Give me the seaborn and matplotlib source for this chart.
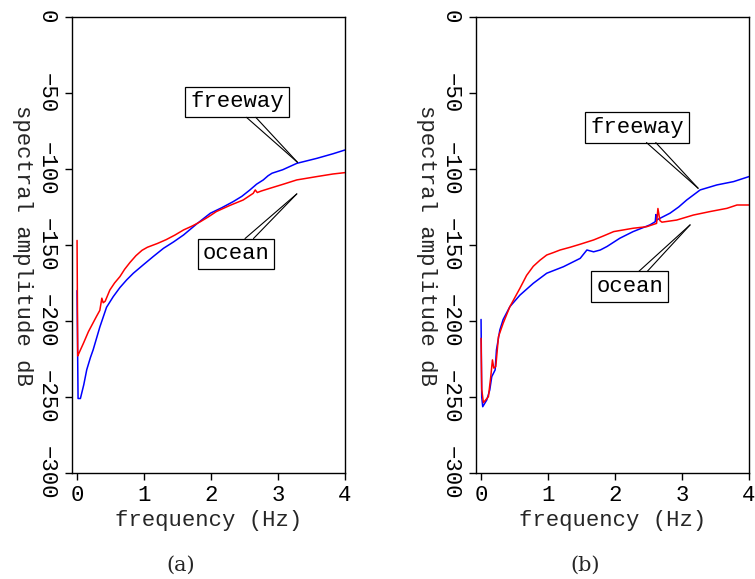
import matplotlib
matplotlib.use("Agg")
import matplotlib.pyplot as plt
import pandas as pd
import seaborn as sns

# ---- spectra, panel (a) ----
a_freeway_f = [0.0, 0.015, 0.05, 0.1, 0.145, 0.2, 0.24, 0.3, 0.34, 0.44, 0.54, 0.64, 0.74,
               0.84, 0.99, 1.14, 1.29, 1.44, 1.59, 1.79, 1.99, 2.16, 2.33, 2.46, 2.58, 2.68,
               2.78, 2.85, 2.91, 3.07, 3.28, 3.58, 3.82, 4.0]
a_freeway_db = [-180, -251, -251, -242, -232, -224, -219, -210, -204, -191, -184, -178, -173,
                -168.6, -163, -157.5, -152.2, -148, -143.4, -136, -129.1, -125.5, -121.5, -118, -113.8, -110,
                -107.2, -104.5, -102.8, -100.5, -96.3, -93, -90, -87.5]

a_ocean_f = [0.0, 0.01, 0.03, 0.095, 0.17, 0.23, 0.29, 0.34, 0.37, 0.39, 0.42, 0.49, 0.56,
             0.64, 0.71, 0.79, 0.88, 0.97, 1.05, 1.2, 1.33, 1.46, 1.59, 1.72, 1.84, 1.96,
             2.08, 2.28, 2.48, 2.63, 2.66, 2.69, 2.75, 2.88, 3.08, 3.28, 3.58, 3.82, 4.0]
a_ocean_db = [-147, -223, -221, -214.7, -207, -202, -197, -193, -185, -188, -187, -179.6, -175,
              -170.8, -166, -161.5, -157, -153.5, -151.5, -149, -146.5, -143.5, -140.1, -137.5, -134.7, -131.5,
              -128, -124, -120.4, -116, -113.8, -115.5, -114.5, -112.7, -110, -107.2, -105, -103.3, -102.4]

# ---- spectra, panel (b) ----
b_freeway_f = [0.0, 0.01, 0.025, 0.085, 0.13, 0.16, 0.21, 0.23, 0.28, 0.33, 0.43, 0.58, 0.78,
               0.98, 1.23, 1.48, 1.58, 1.68, 1.78, 1.88, 2.07, 2.27, 2.52, 2.60, 2.61, 2.62,
               2.82, 2.95, 3.07, 3.27, 3.52, 3.77, 4.0]
b_freeway_db = [-199, -250, -256.4, -252, -245.4, -236.6, -232.2, -219, -206, -199, -190.6, -183, -175.2,
                -168.6, -164.3, -158.8, -153.3, -154.5, -153.3, -151, -145.6, -141.2, -136.8, -134.7, -130, -133.6,
                -129.1, -125, -120.4, -113.8, -110.5, -108.3, -105]

b_ocean_f = [0.0, 0.01, 0.035, 0.11, 0.145, 0.17, 0.19, 0.22, 0.26, 0.33, 0.43, 0.58, 0.68,
             0.78, 0.88, 0.98, 1.08, 1.18, 1.33, 1.48, 1.68, 1.83, 1.98, 2.27, 2.47, 2.62,
             2.64, 2.67, 2.70, 2.92, 3.17, 3.42, 3.67, 3.82, 4.0]
b_ocean_db = [-211.4, -245, -253.7, -249.8, -236.6, -225.6, -231, -230, -210.3, -201.5, -190.6, -178.5, -170,
              -164, -160, -156.6, -155, -153.3, -151.5, -149.5, -146.7, -144, -141.2, -139, -138, -135.8,
              -126, -134, -135, -133.6, -130.3, -128, -125.9, -123.7, -123.7]

series_names = ["freeway", "ocean"]
series_colors = {"freeway": "#0000ff", "ocean": "#ff0000"}

x_ticks = [0, 1, 2, 3, 4]
y_ticks = [0, -50, -100, -150, -200, -250, -300]
x_label = "frequency (Hz)"
y_label = "spectral amplitude dB"
captions = ["(a)", "(b)"]

# label box centres, leader-line targets and anchor fractions on the box edge
a_labels = {
    "freeway": dict(center=(2.39, -55.9), target=(3.29, -95.6), rel=(0.59, 0.68), edge=0.0),
    "ocean": dict(center=(2.37, -155.9), target=(3.28, -116.4), rel=(0.62, 0.73), edge=1.0),
}
b_labels = {
    "freeway": dict(center=(2.33, -72.5), target=(3.24, -112.7), rel=(0.59, 0.68), edge=0.0),
    "ocean": dict(center=(2.22, -177.4), target=(3.12, -136.8), rel=(0.62, 0.73), edge=1.0),
}

sns.set_style("ticks")
plt.rcParams["font.family"] = ["Liberation Mono", "DejaVu Sans Mono"]
plt.rcParams["axes.linewidth"] = 1.0
plt.rcParams["axes.edgecolor"] = "black"
plt.rcParams["xtick.color"] = "black"
plt.rcParams["ytick.color"] = "black"

fig = plt.figure(figsize=(7.55, 5.79), dpi=100)
ax_a = fig.add_axes([0.0954, 0.1831, 0.3616, 0.7876])
ax_b = fig.add_axes([0.6305, 0.1831, 0.3616, 0.7876])


def spectra_frame(freeway_f, freeway_db, ocean_f, ocean_db):
    parts = [
        pd.DataFrame({"freq": freeway_f, "db": freeway_db, "site": "freeway"}),
        pd.DataFrame({"freq": ocean_f, "db": ocean_db, "site": "ocean"}),
    ]
    return pd.concat(parts, ignore_index=True)


def label_box(ax, text, center, target, rel, edge):
    t = ax.text(center[0], center[1], text, ha="center", va="center", fontsize=16,
                color="black", zorder=5,
                bbox=dict(boxstyle="square,pad=0.22", fc="white", ec="black", lw=0.9))
    patch = t.get_bbox_patch()
    for rx in rel:
        ax.annotate("", xy=target, xycoords="data", xytext=(rx, edge), textcoords=patch,
                    arrowprops=dict(arrowstyle="-", color="black", lw=0.8,
                                    shrinkA=0, shrinkB=0), zorder=6)


def draw_panel(ax, df, labels):
    sns.lineplot(data=df, x="freq", y="db", hue="site", hue_order=series_names,
                 palette=series_colors, estimator=None, sort=False, legend=False,
                 linewidth=1.1, ax=ax)
    ax.set_xlim(-0.075, 4.0)
    ax.set_ylim(-300, 0)
    ax.set_xticks(x_ticks)
    ax.set_yticks(y_ticks)
    ax.set_xticklabels([str(v) for v in x_ticks])
    ax.set_yticklabels([str(v).replace("-", "\u2212") for v in y_ticks])
    ax.tick_params(axis="both", direction="out", length=5, width=1.0, labelsize=16)
    ax.tick_params(axis="x", pad=4)
    ax.tick_params(axis="y", pad=6, labelrotation=-90)
    for lbl in ax.get_yticklabels():
        lbl.set_va("center")
        lbl.set_ha("right")
    ax.set_xlabel(x_label, fontsize=16, va="center")
    ax.set_ylabel(y_label, fontsize=16, rotation=-90, ha="center", va="center")
    ax.xaxis.set_label_coords(0.5, -0.105)
    ax.yaxis.set_label_coords(-0.183, 0.5)
    for side in ("top", "right", "left", "bottom"):
        ax.spines[side].set_visible(True)
        ax.spines[side].set_linewidth(1.0)
    for name in series_names:
        label_box(ax, name, **labels[name])


draw_panel(ax_a, spectra_frame(a_freeway_f, a_freeway_db, a_ocean_f, a_ocean_db), a_labels)
draw_panel(ax_b, spectra_frame(b_freeway_f, b_freeway_db, b_ocean_f, b_ocean_db), b_labels)

fig.text(181 / 755, 1 - 565 / 579, captions[0], ha="center", va="center",
         fontfamily="DejaVu Serif", fontsize=15)
fig.text(585 / 755, 1 - 565 / 579, captions[1], ha="center", va="center",
         fontfamily="DejaVu Serif", fontsize=15)

fig.savefig("out.png", dpi=100)
